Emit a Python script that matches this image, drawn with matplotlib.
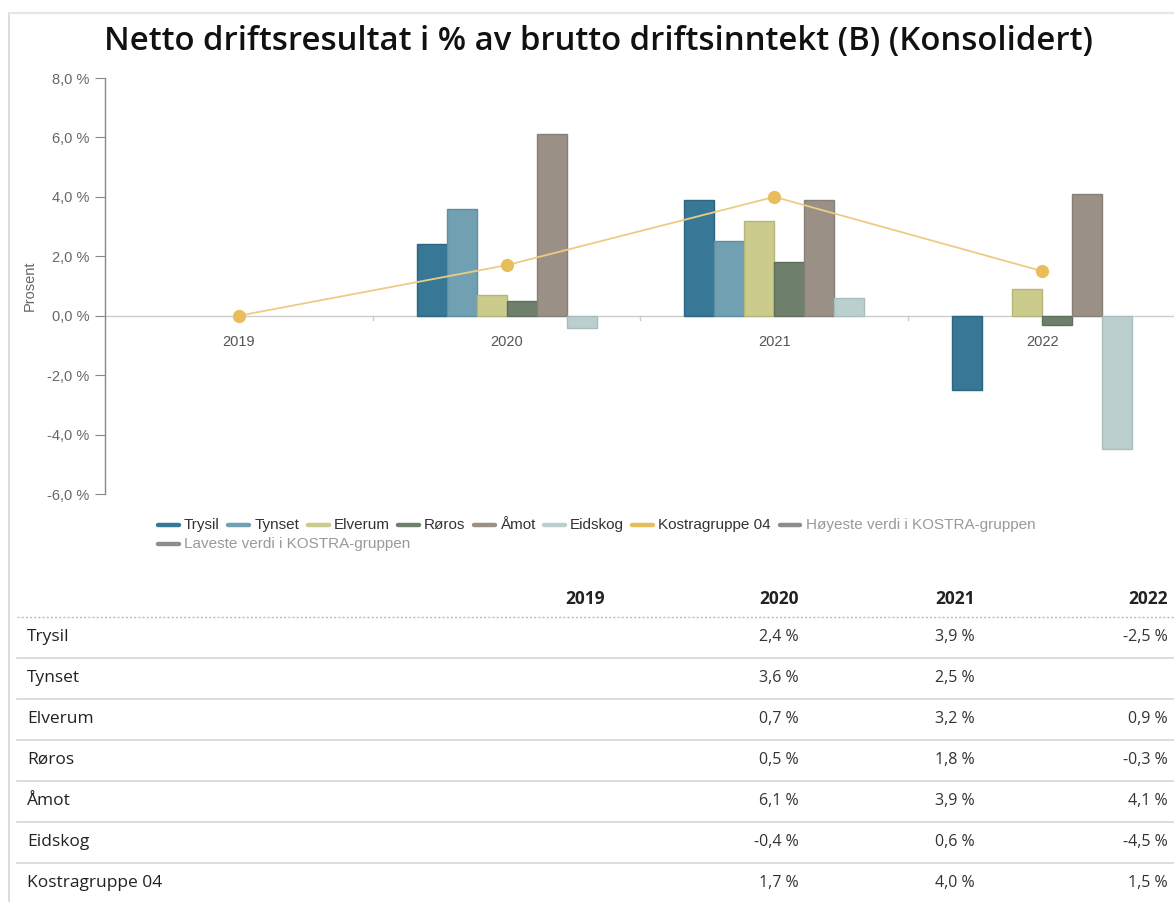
import numpy as np
import matplotlib
matplotlib.use("Agg")
import matplotlib.pyplot as plt
from matplotlib.lines import Line2D

years = ["2019", "2020", "2021", "2022"]
series_names = ["Trysil", "Tynset", "Elverum", "Røros", "Åmot", "Eidskog"]
trysil = [None, 2.4, 3.9, -2.5]
tynset = [None, 3.6, 2.5, None]
elverum = [None, 0.7, 3.2, 0.9]
roros = [None, 0.5, 1.8, -0.3]
amot = [None, 6.1, 3.9, 4.1]
eidskog = [None, -0.4, 0.6, -4.5]
kostra = [0.0, 1.7, 4.0, 1.5]
kostra_table = [None, 1.7, 4.0, 1.5]
kostra_name = "Kostragruppe 04"
extra_legend = ["Høyeste verdi i KOSTRA-gruppen", "Laveste verdi i KOSTRA-gruppen"]
yticks = [-6, -4, -2, 0, 2, 4, 6, 8]

series_vals = [trysil, tynset, elverum, roros, amot, eidskog]
colors = ["#367896", "#70A0B1", "#CBCB8C", "#6E806B", "#9A9085", "#BCCFCF"]
edges = ["#2C6680", "#5F8F9F", "#B5B57A", "#5E6F5B", "#86807A", "#A9BDBD"]
kcolor = "#E8BE5C"
kline = "#EDCB85"

W, H = 1174, 902
fig = plt.figure(figsize=(W / 100, H / 100), dpi=100)
fig.patch.set_facecolor("white")

def fx(px):
    return px / W

def fy(py):
    return 1 - py / H

# container border
fig.add_artist(Line2D([fx(9), fx(9)], [fy(13), fy(902)], color="#DDDDDD", lw=1.5))
fig.add_artist(Line2D([fx(9), fx(1174)], [fy(13), fy(13)], color="#E6E6E6", lw=1.5))

fig.text(fx(599), fy(41), "Netto driftsresultat i % av brutto driftsinntekt (B) (Konsolidert)",
         ha="center", va="center", fontsize=23.7, family="Open Sans", fontweight="semibold",
         color="#111111")

ax_left, ax_right = 105, 1176
ax_top, ax_bot = 78, 494
ax = fig.add_axes([fx(ax_left), fy(ax_bot), fx(ax_right - ax_left), (ax_bot - ax_top) / H])
ax.set_xlim(-0.5, 3.5)
ax.set_ylim(-6, 8)
ax.patch.set_alpha(0)
for s in ["top", "right", "bottom"]:
    ax.spines[s].set_visible(False)
ax.spines["left"].set_color("#888888")
ax.spines["left"].set_linewidth(1)
ax.set_yticks(yticks)
ax.set_yticklabels([f"{v:.1f} %".replace(".", ",") for v in yticks])
ax.tick_params(axis="y", length=7, color="#888888", labelcolor="#666666", labelsize=10.5, pad=4)
for lab in ax.get_yticklabels():
    lab.set_family("Liberation Sans")
ax.set_xticks([])
ax.set_ylabel("Prosent", fontsize=10.5, color="#666666", family="Liberation Sans", labelpad=8)

x = np.arange(len(years))
bw = 30 / 268
ax.axhline(0, color="#CCCCCC", lw=1, zorder=1)
for i, (vals, c, ec) in enumerate(zip(series_vals, colors, edges)):
    for xi, v in zip(x, vals):
        if v is None:
            continue
        ax.bar(xi + (i - 2.5) * bw, v, width=bw, color=c, edgecolor=ec, linewidth=1, zorder=2)

ax.plot(x, kostra, color=kline, lw=1.3, zorder=3)
ax.plot(x, kostra, ls="none", marker="o", ms=8.5, color=kcolor, zorder=4)

for xi, y in zip(x, years):
    ax.annotate(y, (xi, 0), xytext=(0, -19), textcoords="offset points", ha="center",
                va="center", fontsize=10.5, color="#555555", family="Liberation Sans")
for b in [0.5, 1.5, 2.5]:
    ax.plot([b, b], [0, -0.13], color="#CCCCCC", lw=1, zorder=1)

# legend (manual layout)
renderer = fig.canvas.get_renderer()
leg_items = [(n, c, "#333333") for n, c in zip(series_names, colors)]
leg_items.append((kostra_name, kcolor, "#333333"))
leg_items += [(n, "#8C8C8C", "#999999") for n in extra_legend]
lx0 = 158
lx, ly = lx0, 525
row_h = 19
line_len, gap1, gap2 = 21, 5, 8.5
for name, c, tc in leg_items:
    t = fig.text(fx(lx + line_len + gap1), fy(ly), name, ha="left", va="center", fontsize=11,
                 family="Liberation Sans", color=tc)
    wpx = t.get_window_extent(renderer).width
    if lx + line_len + gap1 + wpx > 1045:
        lx = lx0
        ly += row_h
        t.set_position((fx(lx + line_len + gap1), fy(ly)))
    fig.add_artist(Line2D([fx(lx), fx(lx + line_len)], [fy(ly), fy(ly)], color=c, lw=3.2,
                          solid_capstyle="round"))
    lx = lx + line_len + gap1 + wpx + gap2

# table
col_right = [605, 799, 975, 1168]
fig.add_artist(Line2D([fx(17), fx(1174)], [fy(599 + 18), fy(599 + 18)], color="#BBBBBB",
                      lw=1, ls=(0, (1.5, 1.5))))
for cr, y in zip(col_right, years):
    fig.text(fx(cr), fy(599), y, ha="right", va="center", fontsize=12.5, family="Open Sans",
             fontweight="bold", color="#222222")

def fmt(v):
    return "" if v is None else f"{v:.1f} %".replace(".", ",")

rows = list(zip(series_names, series_vals)) + [(kostra_name, kostra_table)]
row_y0 = 637
row_step = 41
for r, (name, vals) in enumerate(rows):
    yy = row_y0 + r * row_step
    fig.text(fx(27), fy(yy), name, ha="left", va="center", fontsize=12.5, family="Open Sans",
             color="#222222")
    for cr, v in zip(col_right, vals):
        fig.text(fx(cr), fy(yy), fmt(v), ha="right", va="center", fontsize=11.5, family="Open Sans",
                 color="#333333")
    if r < len(rows) - 1:
        ly2 = yy + 21
        fig.add_artist(Line2D([fx(17), fx(1174)], [fy(ly2), fy(ly2)], color="#D6D6D6", lw=1.2))

fig.savefig("out.png", dpi=100, facecolor="white")
